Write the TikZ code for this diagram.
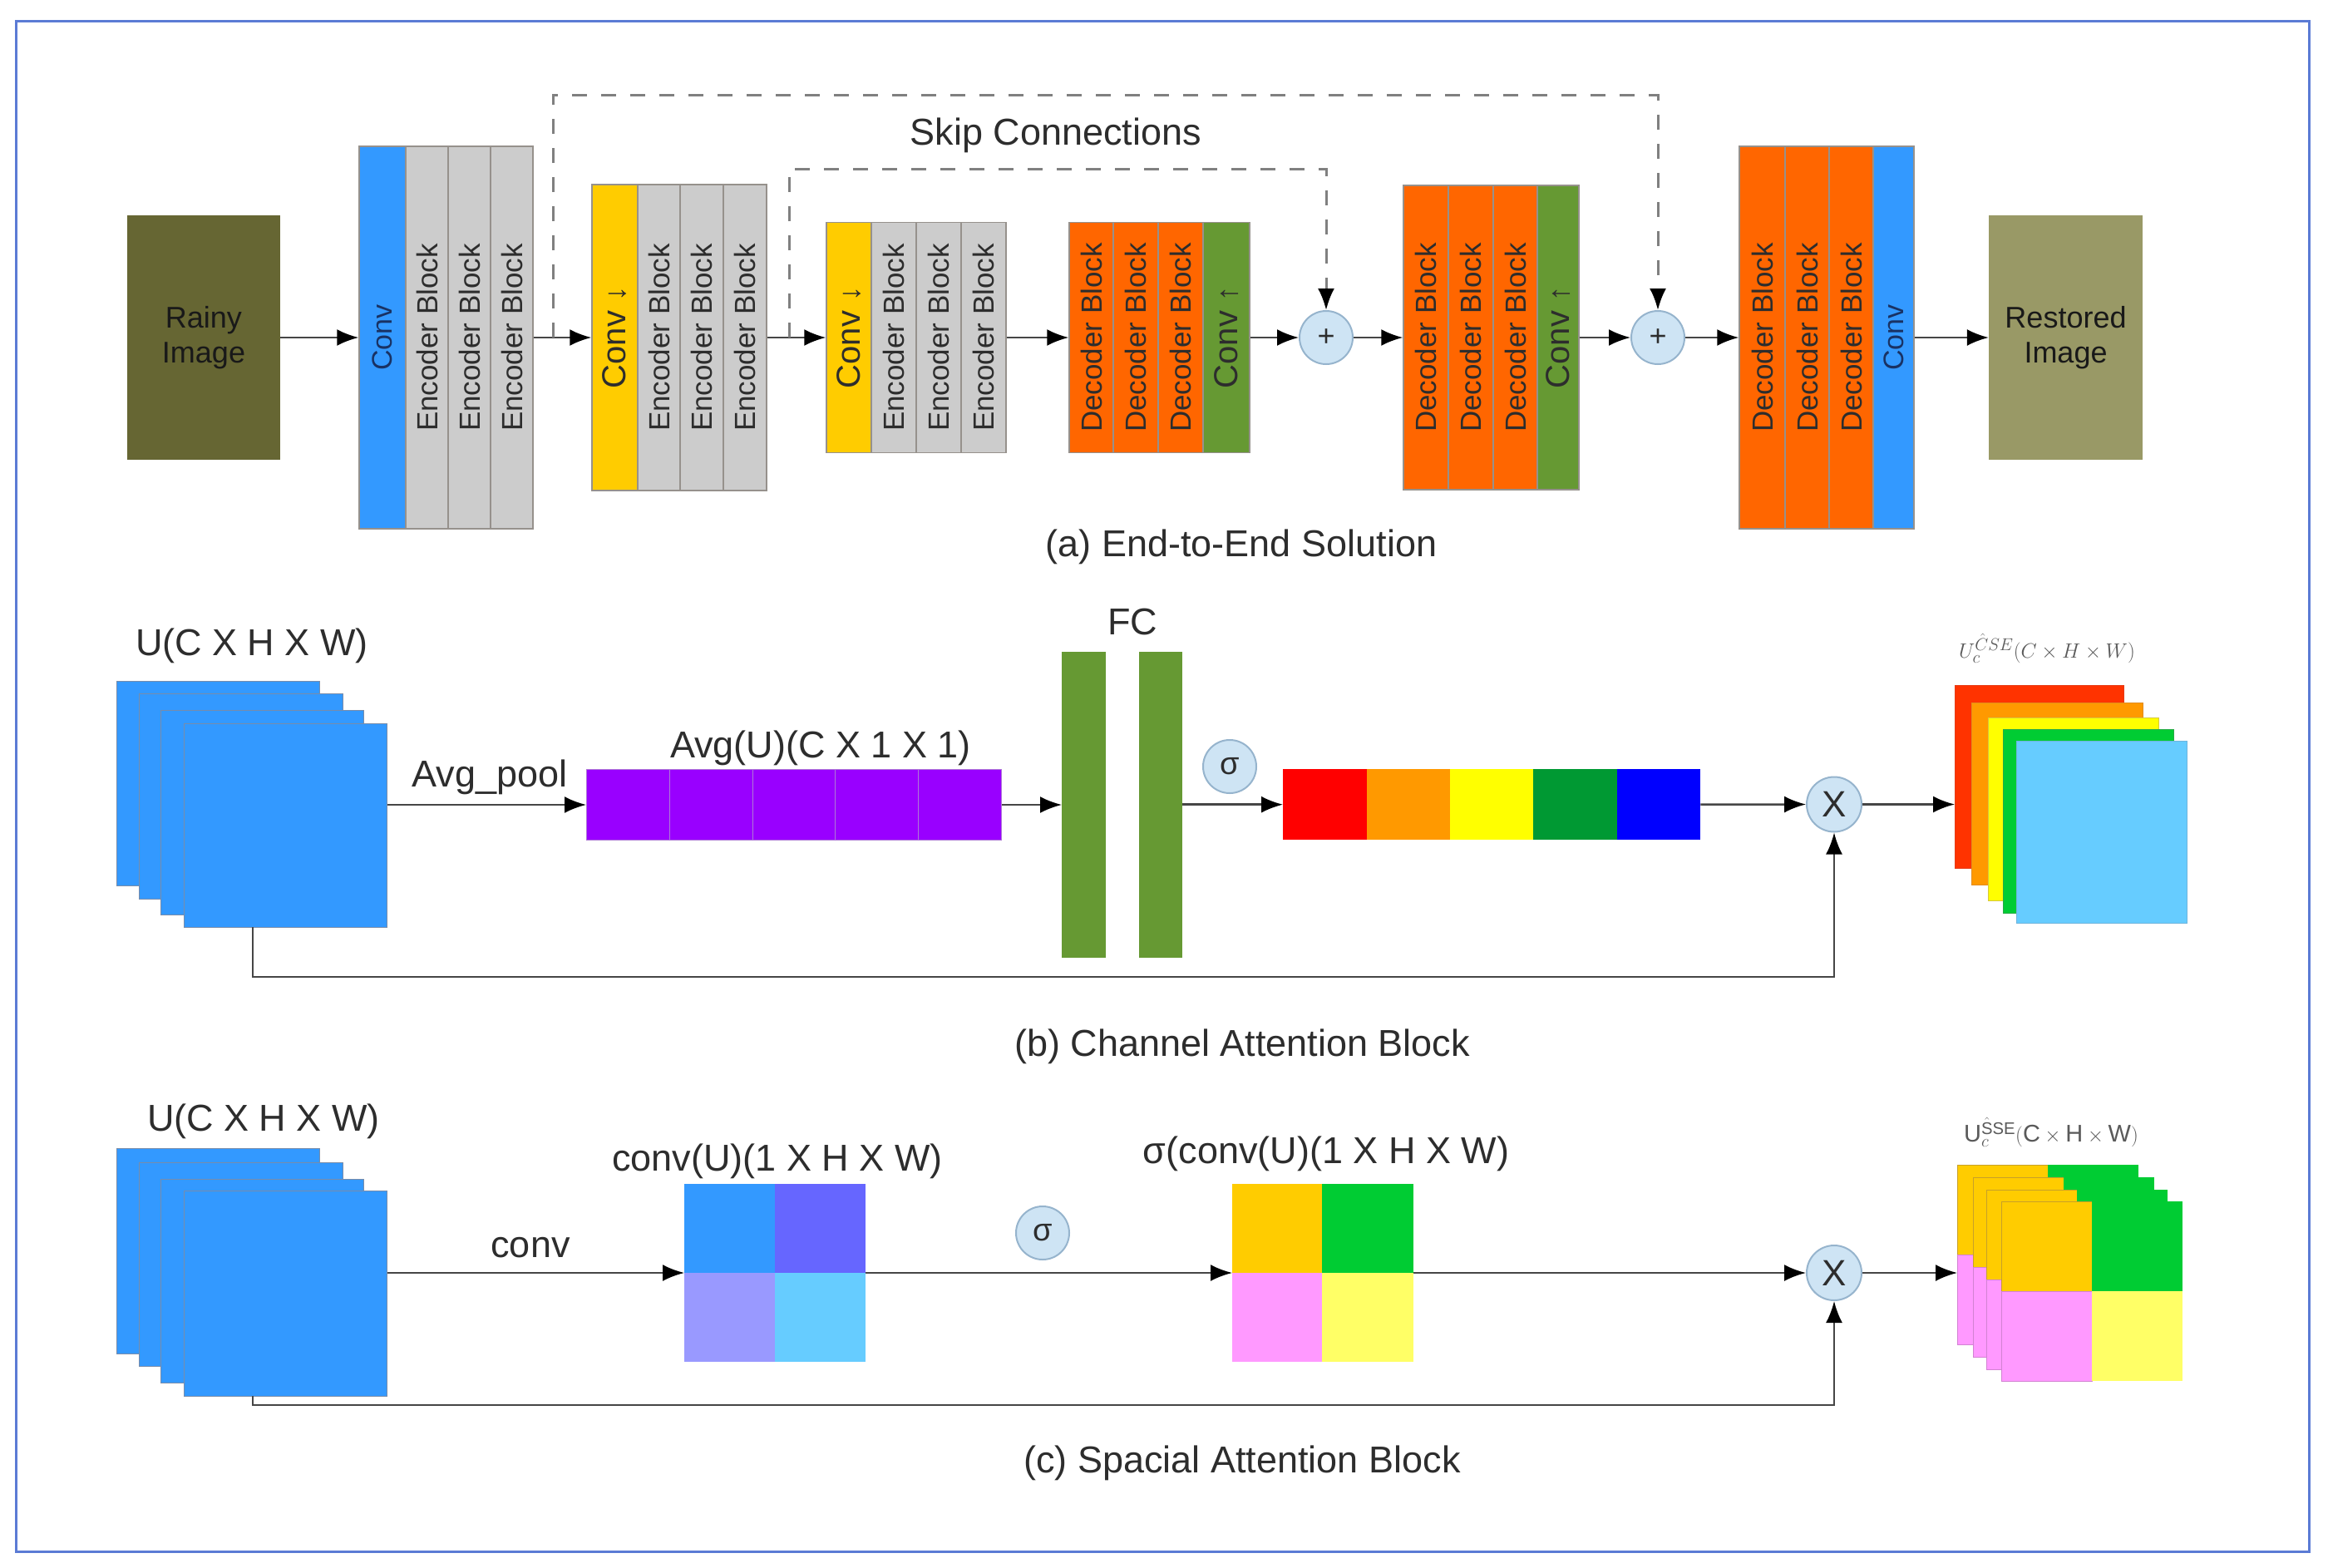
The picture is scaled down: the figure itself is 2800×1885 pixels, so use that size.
\documentclass[tikz,border=0pt]{standalone}
\usepackage{fontspec}
\setmainfont{Liberation Sans}
\usetikzlibrary{arrows.meta,calc}
\definecolor{frameblue}{RGB}{91,123,213}
\definecolor{convblue}{RGB}{51,153,255}
\definecolor{encgray}{RGB}{204,204,204}
\definecolor{yellowc}{RGB}{255,204,0}
\definecolor{decor}{RGB}{255,102,0}
\definecolor{greenc}{RGB}{102,153,51}
\definecolor{rainyc}{RGB}{102,102,51}
\definecolor{restc}{RGB}{153,153,102}
\definecolor{purplec}{RGB}{153,0,255}
\definecolor{cfill}{RGB}{206,228,244}
\definecolor{cline}{RGB}{150,180,205}
\definecolor{tgray}{RGB}{45,45,45}
\definecolor{bline}{RGB}{150,145,140}
\definecolor{lgray}{RGB}{70,70,70}
\definecolor{dgray}{RGB}{128,128,128}
\definecolor{navyt}{RGB}{25,50,100}
\definecolor{sqline}{RGB}{120,140,170}
\begin{document}
\begin{tikzpicture}[x=1pt,y=-1pt,
  txt/.style={font=\fontsize{45}{54}\selectfont, text=tgray, inner sep=0pt},
  vlab/.style={font=\fontsize{35}{40}\selectfont, text=tgray},
  clab/.style={font=\fontsize{40}{44}\selectfont, text=tgray},
  blkbase/.style={draw=bline, line width=1.5pt, inner sep=0pt, rotate=90},
  imgbox/.style={inner sep=0pt, align=center, font=\fontsize{36}{42}\selectfont, text={rgb,255:red,25;green,25;blue,25}, minimum width=184, minimum height=294},
  arr/.style={draw=lgray, line width=2.5pt, -{Latex[length=26pt,width=20pt,color=black]}},
  skipline/.style={draw=dgray, line width=3pt, dash pattern=on 18pt off 17pt, -{Latex[length=26pt,width=20pt,color=black]}},
  opc/.style={circle, draw=cline, fill=cfill, line width=2pt, inner sep=0pt, minimum size=64pt, text=tgray},
  sq/.style={draw=sqline, line width=1.2pt, inner sep=0pt, anchor=north west},
  cell/.style={inner sep=0pt, anchor=north west},
  mlab/.style={inner sep=0pt, text={rgb,255:red,90;green,90;blue,90}, font=\fontsize{29}{34}\selectfont}
]
\useasboundingbox (0,0) rectangle (2800,1885);
\fill[white] (0,0) rectangle (2800,1885);
\draw[frameblue, line width=3pt] (19,25) rectangle (2777,1866);

% ---------------- (a) End-to-End ----------------
\node (rainy) [imgbox, fill=rainyc] at (245,406) {Rainy\\Image};
\node (restored) [imgbox, fill=restc, minimum width=185] at (2484.5,406) {Restored\\Image};

% group 1
\node (c1)  [blkbase, fill=convblue, minimum width=460, minimum height=56, font=\fontsize{34}{40}\selectfont, text=navyt] at (460,406) {Conv};
\node (e11) [blkbase, fill=encgray, minimum width=460, minimum height=51, vlab] at (513.5,406) {Encoder Block};
\node (e12) [blkbase, fill=encgray, minimum width=460, minimum height=51, vlab] at (564.5,406) {Encoder Block};
\node (e13) [blkbase, fill=encgray, minimum width=460, minimum height=51, vlab] at (615.5,406) {Encoder Block};
% group 2
\node (c2)  [blkbase, fill=yellowc, minimum width=368, minimum height=55, clab] at (739.5,406) {Conv {\fontsize{36}{36}\selectfont ↓}};
\node (e21) [blkbase, fill=encgray, minimum width=368, minimum height=51, vlab] at (792.5,406) {Encoder Block};
\node (e22) [blkbase, fill=encgray, minimum width=368, minimum height=52, vlab] at (844,406) {Encoder Block};
\node (e23) [blkbase, fill=encgray, minimum width=368, minimum height=52, vlab] at (896,406) {Encoder Block};
% group 3
\node (c3)  [blkbase, fill=yellowc, minimum width=277, minimum height=54, clab] at (1021,406) {Conv {\fontsize{36}{36}\selectfont ↓}};
\node (e31) [blkbase, fill=encgray, minimum width=277, minimum height=54, vlab] at (1075,406) {Encoder Block};
\node (e32) [blkbase, fill=encgray, minimum width=277, minimum height=54, vlab] at (1129,406) {Encoder Block};
\node (e33) [blkbase, fill=encgray, minimum width=277, minimum height=54, vlab] at (1183,406) {Encoder Block};
% decoder 1
\node (d11) [blkbase, fill=decor, minimum width=277, minimum height=53, vlab] at (1312.5,406) {Decoder Block};
\node (d12) [blkbase, fill=decor, minimum width=277, minimum height=54, vlab] at (1366,406) {Decoder Block};
\node (d13) [blkbase, fill=decor, minimum width=277, minimum height=54, vlab] at (1420,406) {Decoder Block};
\node (u1)  [blkbase, fill=greenc, minimum width=277, minimum height=56, clab] at (1475,406) {Conv {\fontsize{36}{36}\selectfont ↑}};
% decoder 2
\node (d21) [blkbase, fill=decor, minimum width=366, minimum height=54, vlab] at (1715,406) {Decoder Block};
\node (d22) [blkbase, fill=decor, minimum width=366, minimum height=54, vlab] at (1769,406) {Decoder Block};
\node (d23) [blkbase, fill=decor, minimum width=366, minimum height=53, vlab] at (1822.5,406) {Decoder Block};
\node (u2)  [blkbase, fill=greenc, minimum width=366, minimum height=50, clab] at (1874,406) {Conv {\fontsize{36}{36}\selectfont ↑}};
% decoder 3
\node (d31) [blkbase, fill=decor, minimum width=460, minimum height=55, vlab] at (2119.5,406) {Decoder Block};
\node (d32) [blkbase, fill=decor, minimum width=460, minimum height=53, vlab] at (2173.5,406) {Decoder Block};
\node (d33) [blkbase, fill=decor, minimum width=460, minimum height=53, vlab] at (2226.5,406) {Decoder Block};
\node (c4)  [blkbase, fill=convblue, minimum width=460, minimum height=49, font=\fontsize{34}{40}\selectfont, text=navyt] at (2277.5,406) {Conv};

\node (plus1) [opc, font=\fontsize{36}{40}\selectfont] at (1595,406) {+};
\node (plus2) [opc, font=\fontsize{36}{40}\selectfont] at (1994,406) {+};

% rotated nodes: north = left side, south = right side
\draw[arr] (rainy.east) -- (c1.north);
\draw[arr] (e13.south) -- (c2.north);
\draw[arr] (e23.south) -- (c3.north);
\draw[arr] (e33.south) -- (d11.north);
\draw[arr] (u1.south) -- (plus1.west);
\draw[arr] (plus1.east) -- (d21.north);
\draw[arr] (u2.south) -- (plus2.west);
\draw[arr] (plus2.east) -- (d31.north);
\draw[arr] (c4.south) -- (restored.west);

\coordinate (s1) at (665,406);
\coordinate (s2) at (949,406);
\draw[skipline] (s1) -- ++(0,-292) -| (plus2.north);
\draw[skipline] (s2) -- ++(0,-203) -| (plus1.north);

\node (skiplab) [txt] at (1270,163) {Skip Connections};
\node (capa) [txt] at (1493,658) {(a) End-to-End Solution};

% ---------------- (b) Channel attention ----------------
\node (ub1) [sq, fill=convblue, minimum width=244, minimum height=246] at (140,819) {};
\node (ub2) [sq, fill=convblue, minimum width=245, minimum height=247] at (167,834) {};
\node (ub3) [sq, fill=convblue, minimum width=244, minimum height=246] at (193,854) {};
\node (ub4) [sq, fill=convblue, minimum width=244, minimum height=245] at (221,870) {};
\node (ulb) [txt] at (303,777) {U(C X H X W)};

\foreach \k in {1,...,5} {
  \node (pc\k) [cell, fill=purplec, draw={rgb,255:red,175;green,120;blue,215}, line width=1pt, minimum width=99.8, minimum height=85] at ({705+99.8*(\k-1)},925) {};
}
\node (avgp) [txt] at (589,935) {Avg\_pool};
\node (avgu) [txt] at (987,900) {Avg(U)(C X 1 X 1)};
\draw[arr] (ub4.east |- pc1.west) -- (pc1.west);

\node (fc1) [cell, fill=greenc, minimum width=53, minimum height=368] at (1277,784) {};
\node (fc2) [cell, fill=greenc, minimum width=52, minimum height=368] at (1370,784) {};
\node (fclab) [txt] at (1362,748) {FC};
\draw[arr] (pc5.east) -- (pc5.east -| fc1.west);

\node (cb1) [cell, fill={rgb,255:red,255;green,0;blue,0}, minimum width=100.4, minimum height=85] at (1543,925) {};
\node (cb2) [cell, fill={rgb,255:red,255;green,153;blue,0}, minimum width=100.4, minimum height=85] at (1643.4,925) {};
\node (cb3) [cell, fill={rgb,255:red,255;green,255;blue,0}, minimum width=100.4, minimum height=85] at (1743.8,925) {};
\node (cb4) [cell, fill={rgb,255:red,0;green,153;blue,51}, minimum width=100.4, minimum height=85] at (1844.2,925) {};
\node (cb5) [cell, fill={rgb,255:red,0;green,0;blue,255}, minimum width=100.4, minimum height=85] at (1944.6,925) {};
\node (sigb) [opc, font=\fontsize{38}{40}\selectfont] at (1479,922) {σ};
\draw[arr] (fc2.east |- cb1.west) -- (cb1.west);

\node (Xb) [opc, minimum size=66pt, font=\fontsize{44}{46}\selectfont] at (2206,967.5) {X};
\draw[arr] (cb5.east) -- (Xb.west);

\node (ob1) [cell, fill={rgb,255:red,255;green,51;blue,0}, draw={rgb,255:red,230;green,60;blue,20}, line width=1pt, minimum width=203, minimum height=220] at (2351,824) {};
\node (ob2) [cell, fill={rgb,255:red,255;green,153;blue,0}, draw={rgb,255:red,225;green,140;blue,30}, line width=1pt, minimum width=206, minimum height=219] at (2371,845) {};
\node (ob3) [cell, fill={rgb,255:red,255;green,255;blue,0}, draw={rgb,255:red,215;green,200;blue,60}, line width=1pt, minimum width=205, minimum height=220] at (2391,863) {};
\node (ob4) [cell, fill={rgb,255:red,0;green,204;blue,51}, draw={rgb,255:red,40;green,170;blue,70}, line width=1pt, minimum width=205, minimum height=221] at (2409,877) {};
\node (ob5) [cell, fill={rgb,255:red,102;green,204;blue,255}, draw={rgb,255:red,110;green,180;blue,220}, line width=1pt, minimum width=205, minimum height=219] at (2425,891) {};
\draw[arr] (Xb.east) -- (Xb.east -| ob1.west);
\node (oblab) [mlab] at (2462,780) {$U_c^{\hat{C}SE}(C\times H\times W)$};

\coordinate (bs) at (304,1115);
\draw[arr] (bs) -- ++(0,60) -| (Xb.south);
\node (capb) [txt] at (1494,1259) {(b) Channel Attention Block};

% ---------------- (c) Spatial attention ----------------
\node (uc1) [sq, fill=convblue, minimum width=244, minimum height=247] at (140,1381) {};
\node (uc2) [sq, fill=convblue, minimum width=245, minimum height=245] at (167,1398) {};
\node (uc3) [sq, fill=convblue, minimum width=244, minimum height=245] at (193,1418) {};
\node (uc4) [sq, fill=convblue, minimum width=244, minimum height=247] at (221,1432) {};
\node (ulc) [txt] at (317,1349) {U(C X H X W)};

\node (cga) [cell, fill={rgb,255:red,51;green,153;blue,255}, minimum width=109, minimum height=107] at (823,1424) {};
\node (cgb) [cell, fill={rgb,255:red,102;green,102;blue,255}, minimum width=109, minimum height=107] at (932,1424) {};
\node (cgc) [cell, fill={rgb,255:red,153;green,153;blue,255}, minimum width=109, minimum height=107] at (823,1531) {};
\node (cgd) [cell, fill={rgb,255:red,102;green,204;blue,255}, minimum width=109, minimum height=107] at (932,1531) {};
\node (convl) [txt] at (638,1501) {conv};
\node (convu) [txt] at (935,1397) {conv(U)(1 X H X W)};
\draw[arr] (uc4.east |- cgc.north west) -- (cgc.north west);

\node (sga) [cell, fill={rgb,255:red,255;green,204;blue,0}, minimum width=108, minimum height=107] at (1482,1424) {};
\node (sgb) [cell, fill={rgb,255:red,0;green,204;blue,51}, minimum width=110, minimum height=107] at (1590,1424) {};
\node (sgc) [cell, fill={rgb,255:red,255;green,153;blue,255}, minimum width=108, minimum height=107] at (1482,1531) {};
\node (sgd) [cell, fill={rgb,255:red,255;green,255;blue,102}, minimum width=110, minimum height=107] at (1590,1531) {};
\node (sigc) [opc, font=\fontsize{38}{40}\selectfont] at (1254,1483) {σ};
\node (sconv) [txt] at (1595,1388) {σ(conv(U)(1 X H X W)};
\draw[arr] (cgd.north east) -- (sgc.north west);

\node (Xc) [opc, minimum size=66pt, font=\fontsize{44}{46}\selectfont] at (2206,1531) {X};
\draw[arr] (sgd.north east) -- (Xc.west);

\foreach \i/\x/\y in {1/2354/1401, 2/2373/1416, 3/2389/1431, 4/2407/1445} {
  \node (oc\i-a) [cell, fill={rgb,255:red,255;green,204;blue,0}, draw={rgb,255:red,200;green,160;blue,40}, line width=1pt, minimum width=109, minimum height=108] at (\x,\y) {};
  \node (oc\i-b) [cell, fill={rgb,255:red,0;green,204;blue,51}, minimum width=109, minimum height=108] at (\x+109,\y) {};
  \node (oc\i-c) [cell, fill={rgb,255:red,255;green,153;blue,255}, draw={rgb,255:red,210;green,130;blue,210}, line width=1pt, minimum width=109, minimum height=108] at (\x,\y+108) {};
  \node (oc\i-d) [cell, fill={rgb,255:red,255;green,255;blue,102}, minimum width=109, minimum height=108] at (\x+109,\y+108) {};
}
\draw[arr] (Xc.east) -- (Xc.east -| oc1-a.west);
\node (oclab) [mlab] at (2467,1362) {$\mathrm{U}_c^{\hat{\mathrm{S}}\mathrm{SE}}(\mathrm{C}\times\mathrm{H}\times\mathrm{W})$};

\coordinate (cs) at (304,1679);
\draw[arr] (cs) -- ++(0,11) -| (Xc.south);
\node (capc) [txt] at (1494,1760) {(c) Spacial Attention Block};
\end{tikzpicture}
\end{document}
